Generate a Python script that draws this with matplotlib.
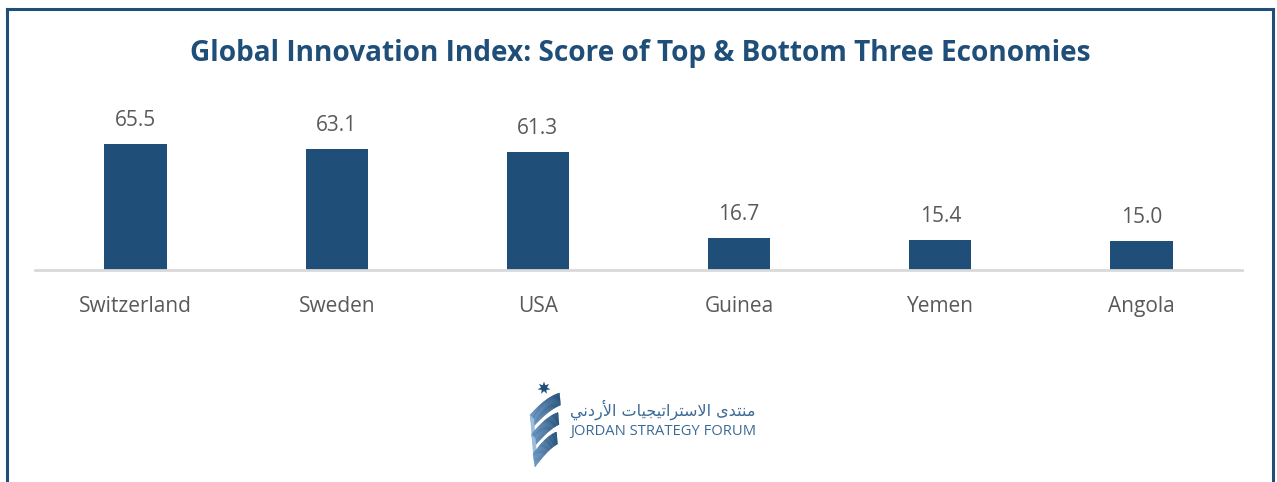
import numpy as np
import matplotlib
matplotlib.use('Agg')
import matplotlib.pyplot as plt
from matplotlib.patches import Polygon
from matplotlib.lines import Line2D
from matplotlib.colors import to_rgb

# Chart data
countries = ['Switzerland', 'Sweden', 'USA', 'Guinea', 'Yemen', 'Angola']
scores = [65.5, 63.1, 61.3, 16.7, 15.4, 15.0]

TITLE = 'Global Innovation Index: Score of Top & Bottom Three Economies'
BAR_COLOR = '#1f4e79'
TEXT_GRAY = '#595959'

W, H = 1277, 482

# Arabic name of the forum, shaped glyphs laid out left to right
ARABIC_NAME = ''.join(reversed(
    '\uFEE3\uFEE8\uFE98\uFEAA\uFEEF'
    ' '
    '\uFE8D\uFEFB\uFEB3\uFE98\uFEAE\uFE8D\uFE97\uFEF4\uFEA0\uFEF4\uFE8E\uFE95'
    ' '
    '\uFE8D\uFEF7\uFEAD\uFEA9\uFEE7\uFEF2'))


def px_box(x0, y0, x1, y1):
    """Convert pixel box (top-left origin) to figure fraction rect."""
    return [x0 / W, 1 - y1 / H, (x1 - x0) / W, (y1 - y0) / H]


def bezier(p0, p1, p2, t):
    t = t[:, None]
    return (1 - t) ** 2 * np.array(p0) + 2 * (1 - t) * t * np.array(p1) + t ** 2 * np.array(p2)


fig = plt.figure(figsize=(W / 100, H / 100), dpi=100)
fig.patch.set_facecolor('white')

# Outer frame (left, top, right edges)
frame_kw = dict(color='#1f4e79', linewidth=2.2, transform=fig.transFigure)
fig.add_artist(Line2D([7 / W, 7 / W], [0, 1 - 8.5 / H], **frame_kw))
fig.add_artist(Line2D([7 / W, 1273 / W], [1 - 8.5 / H, 1 - 8.5 / H], **frame_kw))
fig.add_artist(Line2D([1273 / W, 1273 / W], [0, 1 - 8.5 / H], **frame_kw))

# Title
fig.text(640.5 / W, 1 - 54 / H, TITLE, ha='center', va='center',
         fontsize=20.2, fontweight='bold', color='#1f4e79', family='Open Sans')

# Bar chart
ax = fig.add_axes(px_box(35, 90, 1242, 270))
x = np.arange(len(countries))
bars = ax.bar(x, scores, width=0.31, color=BAR_COLOR, zorder=2)
ax.set_xlim(-0.5, len(countries) - 0.5)
ax.set_ylim(0, 180 / 1.924)

for rect, val in zip(bars, scores):
    ax.annotate(f'{val:.1f}', (rect.get_x() + rect.get_width() / 2, val),
                xytext=(0, 13), textcoords='offset points',
                ha='center', va='baseline', fontsize=15,
                color=TEXT_GRAY, family='Open Sans')

ax.set_xticks(x)
ax.set_xticklabels(countries, fontsize=15, color=TEXT_GRAY, family='Open Sans')
ax.tick_params(axis='x', length=0, pad=19)
ax.set_yticks([])
for side in ['left', 'right', 'top']:
    ax.spines[side].set_visible(False)
ax.spines['bottom'].set_color('#d9d9d9')
ax.spines['bottom'].set_linewidth(2)
ax.patch.set_alpha(0)

# Logo: seven-pointed star and twisted ribbon
lax = fig.add_axes(px_box(520, 375, 570, 470))
lax.set_xlim(520, 570)
lax.set_ylim(470, 375)
lax.axis('off')

ang = np.pi / 2 + np.arange(14) * np.pi / 7
rad = np.where(np.arange(14) % 2 == 0, 6.5, 3.0)
star = np.column_stack([544 + rad * np.cos(ang), 388 - rad * np.sin(ang)])
lax.add_patch(Polygon(star, closed=True, color='#1f4e79', linewidth=0))

dark, light = np.array(to_rgb('#1f4e79')), np.array(to_rgb('#7aa5d0'))
t = np.linspace(0, 1, 30)
for i in range(3):
    dy = 19.5 * i
    top = bezier((559.5 - 1.5 * i, 393 + dy), (546, 397 + dy), (530 + 1.5 * i, 415 + dy), t)
    bot = bezier((560.5 - 1.5 * i, 405 + dy), (548, 410 + dy), (532 + 1.5 * i, 428 + dy), t)
    for k in range(len(t) - 1):
        quad = [top[k], top[k + 1], bot[k + 1], bot[k]]
        col = dark * (1 - t[k] * 0.8) + light * (t[k] * 0.8)
        lax.add_patch(Polygon(quad, closed=True, color=col, linewidth=0.3))
    # lighter inner fold on the left side
    if i < 2:
        fold = [(530 + 1.5 * i, 415 + dy), (534 + 1.5 * i, 419 + dy),
                (535.5 + 1.5 * i, 437 + dy), (531.5 + 1.5 * i, 434 + dy)]
        lax.add_patch(Polygon(fold, closed=True, color='#9dbddd', linewidth=0))

# Logo text
fig.text(570 / W, 1 - 410 / H, ARABIC_NAME, ha='left', va='center',
         fontsize=11.5, color='#3b6a96', family=['DejaVu Sans'])
fig.text(570 / W, 1 - 431 / H, 'JORDAN STRATEGY FORUM', ha='left', va='center',
         fontsize=10.6, color='#3b6a96', family='Open Sans')

fig.savefig('out.png', dpi=100, facecolor='white')
